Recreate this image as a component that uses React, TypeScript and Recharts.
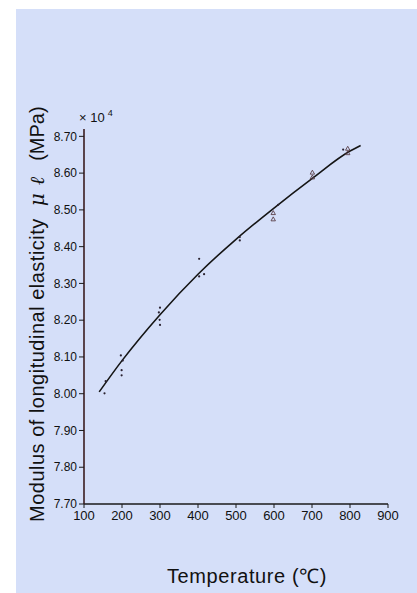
import {
  ComposedChart,
  Line,
  Scatter,
  XAxis,
  YAxis,
  Label,
} from 'recharts'

// fitted curve
const fitTemps = [140, 200, 300, 400, 500, 600, 700, 800, 828]
const fitValues = [8.005, 8.09, 8.215, 8.325, 8.42, 8.505, 8.585, 8.66, 8.675]

// measured points shown as small dots
const dotTemps = [154, 157, 197, 202, 199, 199, 300, 297, 299, 300, 403, 403, 416, 510, 510, 611, 782]
const dotValues = [8.001, 8.034, 8.104, 8.09, 8.064, 8.05, 8.234, 8.221, 8.201, 8.187, 8.367, 8.319, 8.325, 8.426, 8.417, 8.514, 8.664]

// measured points shown as small triangles
const triTemps = [598, 598, 701, 701, 794, 794]
const triValues = [8.492, 8.475, 8.602, 8.589, 8.667, 8.655]

const xTicks = [100, 200, 300, 400, 500, 600, 700, 800, 900]
const yTicks = [7.7, 7.8, 7.9, 8.0, 8.1, 8.2, 8.3, 8.4, 8.5, 8.6, 8.7]

const fitData = fitTemps.map((t, i) => ({ t, v: fitValues[i] }))
const dotData = dotTemps.map((t, i) => ({ t, v: dotValues[i] }))
const triData = triTemps.map((t, i) => ({ t, v: triValues[i] }))

const FONT = '"Liberation Sans", Arial, sans-serif'

function DotShape(props: any) {
  const { cx, cy } = props
  return <circle cx={cx} cy={cy} r={1.1} fill="#2a2230" />
}

function TriShape(props: any) {
  const { cx, cy } = props
  const s = 2.2
  return (
    <path
      d={`M${cx},${cy - s} L${cx + s},${cy + s * 0.8} L${cx - s},${cy + s * 0.8} Z`}
      fill="none"
      stroke="#5a4048"
      strokeWidth={0.9}
    />
  )
}

// vertical axis title, reads bottom to top
function YTitle() {
  const cx = 37
  const cy = 522
  return (
    <text
      x={cx}
      y={cy}
      transform={`rotate(-90 ${cx} ${cy})`}
      textAnchor="start"
      dominantBaseline="central"
      fontFamily={FONT}
      fontSize={20}
      fill="#111"
    >
      <tspan letterSpacing={0.5}>Modulus of longitudinal elasticity</tspan>
      <tspan dx={12} fontStyle="italic" fontFamily='"DejaVu Serif", serif'>μ</tspan>
      <tspan dx={8} fontStyle="italic" fontFamily='"DejaVu Serif", serif'>ℓ</tspan>
      <tspan dx={16}>(MPa)</tspan>
    </text>
  )
}

function Multiplier() {
  return (
    <text x={79} y={122} fontFamily={FONT} fontSize={13} fill="#111">
      × 10
      <tspan dx={3} dy={-6} fontSize={9}>4</tspan>
    </text>
  )
}

function XTitle() {
  return (
    <text
      x={247}
      y={583}
      textAnchor="middle"
      fontFamily={FONT}
      fontSize={20}
      letterSpacing={0.6}
      fill="#111"
    >
      Temperature (℃)
    </text>
  )
}

export default function App() {
  return (
    <div
      style={{
        position: 'fixed',
        left: 0,
        top: 0,
        width: 417,
        height: 593,
        background: '#ffffff',
      }}
    >
      <div
        style={{
          position: 'absolute',
          left: 16,
          top: 9,
          right: 0,
          bottom: 0,
          background: '#d5dff9',
        }}
      />
      <div style={{ position: 'absolute', left: 0, top: 0 }}>
        <ComposedChart
          width={417}
          height={593}
          margin={{ top: 129, right: 29, bottom: 59, left: 0 }}
        >
          <XAxis
            type="number"
            dataKey="t"
            domain={[100, 900]}
            ticks={xTicks}
            allowDataOverflow
            tick={{ fill: '#111', fontSize: 13, fontFamily: FONT }}
            tickSize={4}
            tickMargin={3}
            axisLine={{ stroke: '#1a1a1a', strokeWidth: 1.3 }}
            tickLine={{ stroke: '#1a1a1a' }}
            height={30}
          >
            <Label content={<XTitle />} />
          </XAxis>
          <YAxis
            type="number"
            dataKey="v"
            domain={[7.7, 8.72]}
            ticks={yTicks}
            allowDataOverflow
            tickFormatter={(v: number) => v.toFixed(2)}
            tick={{ fill: '#111', fontSize: 12, fontFamily: FONT }}
            tickSize={5}
            tickMargin={2}
            axisLine={{ stroke: '#3a1c20', strokeWidth: 1.6 }}
            tickLine={{ stroke: '#1a1a1a' }}
            width={84}
          >
            <Label content={<YTitle />} />
            <Label content={<Multiplier />} />
          </YAxis>
          <Line
            data={fitData}
            dataKey="v"
            type="monotone"
            stroke="#151515"
            strokeWidth={1.6}
            dot={false}
            activeDot={false}
            isAnimationActive={false}
          />
          <Scatter data={dotData} dataKey="v" shape={<DotShape />} isAnimationActive={false} />
          <Scatter data={triData} dataKey="v" shape={<TriShape />} isAnimationActive={false} />
        </ComposedChart>
      </div>
    </div>
  )
}
